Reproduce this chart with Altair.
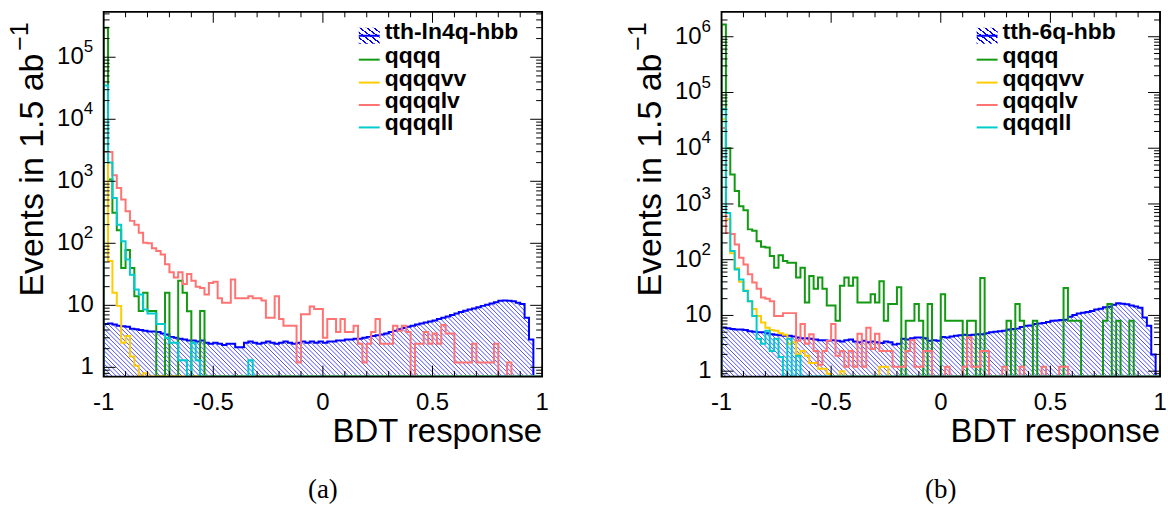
import altair as alt
import pandas as pd

W, H = 440, 366
PXU = W / 2.0
EDGES = [round(-1 + 0.02 * i, 2) for i in range(101)]
FONT = "Liberation Sans"

# ---------------- panel (a) data: 100 bins of 0.02 in BDT response ----------------
A_YMIN, A_YMAX = 0.71, 5.4e5
sig_a = [5.0, 5.1, 4.9, 4.7, 4.6, 4.5, 4.2, 4.1, 4.0, 3.9,
         3.8, 3.8, 3.7, 3.5, 3.4, 3.1, 3.0, 2.9, 2.8, 2.7,
         2.7, 2.6, 2.7, 2.5, 2.4, 2.5, 2.4, 2.3, 2.4, 2.4,
         2.1, 2.1, 2.5, 2.6, 2.5, 2.4, 2.5, 2.6, 2.5, 2.4,
         2.5, 2.6, 2.5, 2.4, 2.5, 2.6, 2.5, 2.6, 2.5, 2.6,
         2.5, 2.6, 2.6, 2.7, 2.7, 2.8, 2.8, 2.9, 2.9, 3.0,
         3.1, 3.2, 3.3, 3.4, 3.5, 3.7, 3.9, 4.1, 4.3, 4.5,
         4.7, 4.9, 5.1, 5.3, 5.5, 5.7, 6.0, 6.3, 6.6, 7.0,
         7.4, 7.8, 8.2, 8.6, 8.9, 9.3, 9.8, 10.2, 10.7, 11.2,
         11.8, 12.0, 11.9, 11.6, 11.0, 10.5, 6.3, 2.8, 0, 0]
qqqq_a = [300000, 1070, 310, 163, 40, 78, 40, 14, 8.1, 16,
          8.1, 8.1, 0, 0, 16, 0, 0, 25, 16, 8,
          0, 0, 8.1] + [0] * 77
qqqqvv_a = [3000, 52, 16, 9.8, 2.5, 3.2, 1.5, 1.06, 0, 0.8] + [0] * 90
qqqqlv_a = [2960, 2960, 1250, 780, 510, 330, 230, 200, 148, 102,
            100, 83, 75, 66, 46, 34, 28, 34, 22, 32,
            25, 20, 19, 15, 23, 24, 13, 11, 11, 26,
            13, 13, 13, 14, 13, 13, 12, 6.3, 6.3, 14,
            6, 4.7, 4.7, 4.7, 1.2, 7.2, 7.2, 9.6, 8.7, 8.7,
            3, 6, 6, 3.7, 6, 3.7, 3.7, 4.7, 2.4, 1.2,
            2.4, 3.7, 6, 2.4, 2.4, 2.4, 4.7, 3.9, 4.7, 3.7,
            0, 2.4, 2.4, 3.7, 2.4, 3.5, 2.4, 4.8, 3.5, 3.5,
            1.2, 1.2, 1.2, 1.2, 2.4, 1.2, 1.2, 1.2, 1.2, 2.4,
            0, 0, 1.2, 0, 0, 0, 0, 0, 0, 0]
qqqqll_a = [35000, 2000, 540, 200, 108, 55, 31, 18, 15, 8.6,
            7.4, 7.4, 5, 5, 3, 2.5, 2.5, 1.3, 1.3, 0,
            2.5, 1.3, 0, 0, 0, 0, 0, 0, 0, 0,
            0, 0, 0, 1.3] + [0] * 66

# ---------------- panel (b) data ----------------
B_YMIN, B_YMAX = 0.80, 2.8e6
sig_b = [6.1, 5.9, 5.7, 5.6, 5.6, 5.5, 5.2, 5.1, 5.0, 5.0,
         4.8, 4.6, 4.5, 4.4, 4.3, 4.3, 4.2, 4.0, 3.9, 3.9,
         3.8, 3.7, 3.6, 3.6, 3.5, 3.6, 3.5, 3.4, 3.6, 3.7,
         3.4, 3.3, 3.5, 3.3, 3.4, 3.3, 3.2, 3.4, 3.3, 3.0,
         3.1, 3.8, 3.7, 3.9, 4.0, 4.0, 3.9, 3.5, 3.6, 3.5,
         4.1, 4.0, 4.2, 4.3, 4.4, 4.5, 4.4, 4.5, 4.6, 4.6,
         4.8, 5.0, 5.1, 5.2, 5.3, 5.6, 5.7, 5.8, 6.2, 6.5,
         6.6, 7.0, 7.2, 7.3, 7.6, 8.0, 8.1, 8.3, 8.4, 9.5,
         10.2, 10.8, 11.2, 11.5, 12.0, 12.8, 13.2, 14.0, 14.3, 15.5,
         16.5, 16.2, 15.8, 15.0, 14.5, 13.8, 9.2, 6.5, 2.0, 0]
qqqq_b = [1.66e6, 10000, 3380, 1700, 910, 770, 350, 330, 215, 170,
          165, 116, 72, 120, 95, 88, 88, 48, 72, 17,
          51, 30, 48, 30, 15, 15, 8, 34, 48, 34,
          48, 17, 17, 17, 24, 17, 41, 8, 16, 16,
          32, 0, 8, 8, 16, 8, 0, 16, 0, 0,
          24, 8, 8, 8, 8, 0, 8, 8, 0, 47,
          0, 0, 0, 0, 0, 8, 0, 16, 8, 0,
          0, 8, 0, 0, 0, 0, 0, 0, 31, 8,
          8, 8, 0, 0, 0, 0, 0, 8, 16, 0,
          8, 0, 0, 8, 0, 0, 0, 0, 0, 0]
qqqqvv_b = [33000, 530, 130, 70, 40, 28, 18, 13, 9.8, 7.5,
            6, 5.5, 5.3, 4.8, 4.5, 3.1, 3.3, 2, 2.3, 1.9,
            1.4, 1.4, 1.1, 1.1, 0.9, 0, 0, 1.0, 0, 0,
            0, 0, 0, 0, 0, 0, 1.2, 1.2] + [0] * 62
qqqqlv_b = [23000, 300, 290, 188, 108, 82, 55, 39, 30, 21,
            20, 18, 9.8, 9.8, 11, 11, 11, 3.5, 7, 3.1,
            4.6, 2.3, 1.3, 2.3, 3.5, 7, 1.9, 2.3, 1.2, 2.3,
            1.2, 4.7, 1.2, 6, 2.5, 4.7, 2.3, 2.3, 2.3, 1.2,
            1.2, 1.2, 2.3, 3.6, 1.2, 1.2, 2.3, 2.3, 0, 0,
            0, 1.2, 0, 0, 0, 1.2, 4.0, 1.2, 1.2, 2.3,
            2.3, 0, 0, 0, 1.2, 0, 0, 0, 1.2, 0,
            0, 0, 0, 1.2, 0, 0, 0, 1.2, 1.2] + [0] * 21
qqqqll_b = [50000, 690, 143, 67, 44, 27.5, 18, 9.8, 3.8, 3.1,
            5.3, 2.3, 3.8, 1.8, 0, 3.8, 0, 1.9] + [0] * 82

X_LABELS = ["-1", "-0.5", "0", "0.5", "1"]
X_LABEL_POS = [-1, -0.5, 0, 0.5, 1]

COL_SIG = "#0000ff"
COLORS = {"qqqq": "#129a12", "qqqqvv": "#ffcc00", "qqqqlv": "#ff7373", "qqqqll": "#00cccc"}


def step_df(vals, ymin):
    xs, vs = [-1.0], [ymin]
    for k, v in enumerate(vals):
        xs.append(EDGES[k])
        vs.append(v if v > 0 else ymin)
    xs.append(1.0); vs.append(vs[-1])
    xs.append(1.0); vs.append(ymin)
    return pd.DataFrame({"i": list(range(len(xs))), "x": xs, "v": vs})


def one():
    return pd.DataFrame({"d": [0]})


def panel(sig_name, sig, bkgs, ymin, ymax, caption, left_anchor, right_anchor):
    xsc = alt.Scale(domain=[-1, 1], nice=False, zero=False)
    ysc = alt.Scale(type="log", domain=[ymin, ymax], nice=False)
    X = lambda f: alt.X(f, type="quantitative", scale=xsc, axis=None)
    Y = lambda f: alt.Y(f, type="quantitative", scale=ysc, axis=None)
    layers = []

    # hatch lines (45 degrees in pixel space), masked above the signal histogram
    dxh = H / PXU
    n = int((2 + dxh) / 0.02) + 2
    hx = [-1 + 0.02 * k for k in range(n)]
    hdf = pd.DataFrame({"x": hx, "x2": [v - dxh for v in hx], "y": ymin, "y2": ymax})
    layers.append(alt.Chart(hdf).mark_rule(color=COL_SIG, strokeWidth=0.7, clip=True).encode(
        x=X("x"), x2="x2:Q", y=Y("y"), y2="y2:Q"))
    mv = [v if v > 0 else ymin for v in sig] + [sig[-1] if sig[-1] > 0 else ymin]
    mdf = pd.DataFrame({"x": EDGES, "v": mv, "top": ymax})
    layers.append(alt.Chart(mdf).mark_area(interpolate="step-after", color="white", clip=True).encode(
        x=X("x"), y=Y("v"), y2="top:Q"))

    # histograms
    layers.append(alt.Chart(step_df(sig, ymin)).mark_line(
        interpolate="step-after", color=COL_SIG, strokeWidth=2, clip=True).encode(
        x=X("x"), y=Y("v"), order=alt.Order("i:Q")))
    for name, vals in bkgs:
        layers.append(alt.Chart(step_df(vals, ymin)).mark_line(
            interpolate="step-after", color=COLORS[name], strokeWidth=2, clip=True).encode(
            x=X("x"), y=Y("v"), order=alt.Order("i:Q")))

    # ticks (inward, all four sides)
    xmaj = [-1, -0.5, 0, 0.5, 1]
    xmin_ = [round(-1 + 0.1 * k, 1) for k in range(21) if round(-1 + 0.1 * k, 1) not in xmaj]
    for vals, ln in ((xmaj, 11), (xmin_, 5.5)):
        d = pd.DataFrame({"x": vals})
        layers.append(alt.Chart(d).mark_rule(color="black", strokeWidth=1).encode(
            x=X("x"), y=alt.value(H), y2=alt.value(H - ln)))
        layers.append(alt.Chart(d).mark_rule(color="black", strokeWidth=1).encode(
            x=X("x"), y=alt.value(0), y2=alt.value(ln)))
    ymaj, ymn = [], []
    k = -1
    while 10 ** k <= ymax:
        for m in range(1, 10):
            v = m * 10 ** k
            if ymin <= v <= ymax:
                (ymaj if m == 1 else ymn).append(v)
        k += 1
    for vals, ln in ((ymaj, 12), (ymn, 6)):
        d = pd.DataFrame({"y": vals})
        layers.append(alt.Chart(d).mark_rule(color="black", strokeWidth=1).encode(
            y=Y("y"), x=alt.value(0), x2=alt.value(ln)))
        layers.append(alt.Chart(d).mark_rule(color="black", strokeWidth=1).encode(
            y=Y("y"), x=alt.value(W), x2=alt.value(W - ln)))

    # frame
    layers.append(alt.Chart(one()).mark_rect(filled=False, stroke="black", strokeWidth=1.8).encode(
        x=alt.value(0), x2=alt.value(W), y=alt.value(0), y2=alt.value(H)))

    # x labels and title
    layers.append(alt.Chart(pd.DataFrame({"x": X_LABEL_POS, "t": X_LABELS})).mark_text(
        font=FONT, fontSize=24, align="center", baseline="middle", color="black").encode(
        x=X("x"), y=alt.value(H + 27), text="t:N"))
    layers.append(alt.Chart(pd.DataFrame({"t": ["BDT response"]})).mark_text(
        font=FONT, fontSize=33, align="right", baseline="alphabetic", color="black").encode(
        x=alt.value(W), y=alt.value(H + 66), text="t:N"))

    # y labels
    plain = [v for v in ymaj if v in (1, 10)]
    expo = [v for v in ymaj if v >= 100]
    layers.append(alt.Chart(pd.DataFrame({"y": plain, "t": [str(int(v)) for v in plain]})).mark_text(
        font=FONT, fontSize=24, align="right", baseline="middle", color="black").encode(
        y=Y("y"), x=alt.value(-10), text="t:N"))
    edf = pd.DataFrame({"y": expo, "t": ["10"] * len(expo),
                        "e": [str(len(str(int(v))) - 1) for v in expo]})
    layers.append(alt.Chart(edf).mark_text(
        font=FONT, fontSize=24, align="right", baseline="middle", color="black").encode(
        y=Y("y"), x=alt.value(-20), text="t:N"))
    layers.append(alt.Chart(edf).mark_text(
        font=FONT, fontSize=17, align="left", baseline="middle", color="black", dy=-10).encode(
        y=Y("y"), x=alt.value(-20), text="e:N"))

    # y title (rotated) with a separate superscript
    layers.append(alt.Chart(pd.DataFrame({"t": ["Events in 1.5 ab"]})).mark_text(
        font=FONT, fontSize=34, angle=270, align="right", baseline="alphabetic", color="black").encode(
        x=alt.value(-61), y=alt.value(42), text="t:N"))
    layers.append(alt.Chart(pd.DataFrame({"t": ["\u22121"]})).mark_text(
        font=FONT, fontSize=25, angle=270, align="left", baseline="alphabetic", color="black").encode(
        x=alt.value(-76), y=alt.value(39), text="t:N"))

    # legend
    lx0, lx1, tx = 256, 277, 282
    rows_y = [24, 48, 71, 93.5, 116]
    grad = []
    nstr = 6
    for j in range(nstr):
        a = j / nstr
        b = a + 0.3 / nstr
        grad += [{"offset": a, "color": "white"}, {"offset": a, "color": COL_SIG},
                 {"offset": b, "color": COL_SIG}, {"offset": b, "color": "white"}]
    grad.append({"offset": 1, "color": "white"})
    layers.append(alt.Chart(one()).mark_rect(
        fill=alt.LinearGradient(gradient="linear", stops=grad, x1=0, y1=1, x2=1, y2=0)).encode(
        x=alt.value(lx0), x2=alt.value(lx1), y=alt.value(rows_y[0] - 8), y2=alt.value(rows_y[0] + 8)))
    layers.append(alt.Chart(one()).mark_rule(color=COL_SIG, strokeWidth=2).encode(
        x=alt.value(lx0), x2=alt.value(lx1), y=alt.value(rows_y[0])))
    names = [sig_name] + [nm for nm, _ in bkgs]
    for r, nm in enumerate(names):
        if r > 0:
            layers.append(alt.Chart(one()).mark_rule(color=COLORS[nm], strokeWidth=2).encode(
                x=alt.value(lx0), x2=alt.value(lx1), y=alt.value(rows_y[r])))
        layers.append(alt.Chart(pd.DataFrame({"t": [nm]})).mark_text(
            font=FONT, fontSize=23, fontWeight="bold", align="left", baseline="middle", color="black").encode(
            x=alt.value(tx), y=alt.value(rows_y[r] - 4), text="t:N"))

    # caption
    layers.append(alt.Chart(pd.DataFrame({"t": [caption]})).mark_text(
        font="Liberation Serif", fontSize=27, align="center", baseline="alphabetic", color="black").encode(
        x=alt.value(W / 2), y=alt.value(H + 122), text="t:N"))

    # layout anchors (white, invisible on the white page)
    layers.append(alt.Chart(one()).mark_rule(color="white", strokeWidth=0.5).encode(
        x=alt.value(left_anchor), x2=alt.value(left_anchor + 1), y=alt.value(-10)))
    if right_anchor is not None:
        layers.append(alt.Chart(one()).mark_rule(color="white", strokeWidth=0.5).encode(
            x=alt.value(right_anchor), x2=alt.value(right_anchor + 1), y=alt.value(0)))

    return alt.layer(*layers).properties(width=W, height=H)


pa = panel("tth-ln4q-hbb", sig_a,
           [("qqqq", qqqq_a), ("qqqqvv", qqqqvv_a), ("qqqqlv", qqqqlv_a), ("qqqqll", qqqqll_a)],
           A_YMIN, A_YMAX, "(a)", -103, 460)
pb = panel("tth-6q-hbb", sig_b,
           [("qqqq", qqqq_b), ("qqqqvv", qqqqvv_b), ("qqqqlv", qqqqlv_b), ("qqqqll", qqqqll_b)],
           B_YMIN, B_YMAX, "(b)", -157, None)

chart = alt.hconcat(pa, pb, spacing=0).properties(padding=0).configure_view(stroke="transparent")
chart.save("out.html", embed_options={"renderer": "svg", "actions": False})
